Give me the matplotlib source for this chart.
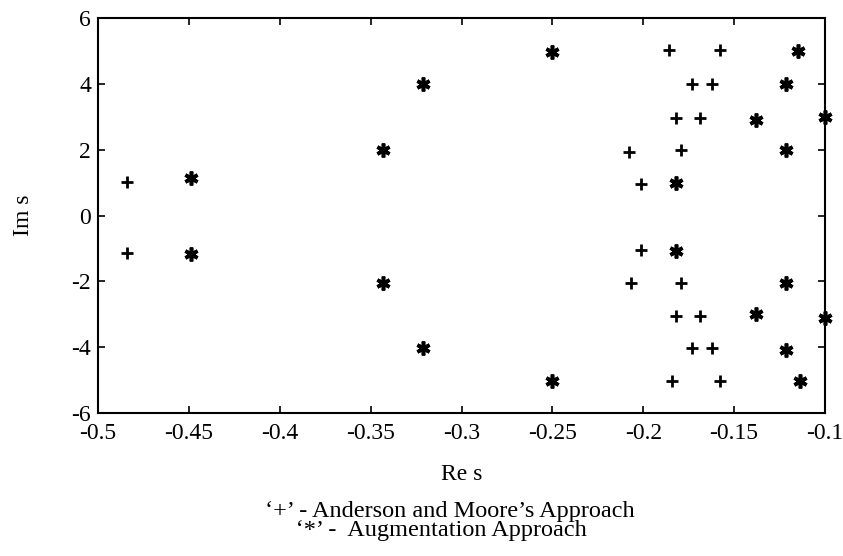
import matplotlib
matplotlib.use("Agg")
import matplotlib.pyplot as plt

# Anderson and Moore's approach ('+')
plus_re = [-0.484, -0.484, -0.186, -0.158, -0.173, -0.162, -0.182, -0.169,
           -0.208, -0.179, -0.201, -0.201, -0.207, -0.179, -0.182, -0.169,
           -0.173, -0.162, -0.184, -0.158]
plus_im = [1.02, -1.15, 5.02, 5.02, 4.0, 4.0, 2.96, 2.96,
           1.93, 2.0, 0.95, -1.05, -2.05, -2.05, -3.05, -3.05,
           -4.03, -4.03, -5.03, -5.03]

# Augmentation approach ('*')
star_re = [-0.449, -0.449, -0.343, -0.343, -0.321, -0.321, -0.25, -0.25,
           -0.115, -0.1215, -0.138, -0.1, -0.1215, -0.182, -0.182, -0.1215,
           -0.138, -0.1, -0.1215, -0.114]
star_im = [1.14, -1.18, 2.0, -2.05, 4.0, -4.03, 4.97, -5.03,
           5.0, 4.0, 2.9, 3.0, 2.0, 1.0, -1.08, -2.05,
           -3.0, -3.1, -4.08, -5.03]

xticks = [-0.5, -0.45, -0.4, -0.35, -0.3, -0.25, -0.2, -0.15, -0.1]
xticklabels = ["-0.5", "-0.45", "-0.4", "-0.35", "-0.3", "-0.25", "-0.2", "-0.15", "-0.1"]
yticks = [-6, -4, -2, 0, 2, 4, 6]

plt.rcParams["font.family"] = ["Liberation Serif", "DejaVu Serif"]
plt.rcParams["axes.unicode_minus"] = False

fig = plt.figure(figsize=(8.43, 5.56), dpi=100)
ax = fig.add_axes([0.1163, 0.2572, 0.8623, 0.7104])

ax.plot(plus_re, plus_im, linestyle="none", marker="+", color="black",
        markersize=9, markeredgewidth=2.0, clip_on=False)
ax.plot(star_re, star_im, linestyle="none", marker=(6, 2, 0), color="black",
        markersize=10, markeredgewidth=2.6, clip_on=False)

ax.set_xlim(-0.5, -0.1)
ax.set_ylim(-6, 6)
ax.set_xticks(xticks)
ax.set_xticklabels(xticklabels)
ax.set_yticks(yticks)
ax.tick_params(direction="in", length=5, width=1.2, top=True, right=True,
               labelsize=17)
ax.tick_params(axis="x", pad=7)
ax.tick_params(axis="y", pad=5)
for s in ax.spines.values():
    s.set_linewidth(1.5)

ax.set_xlabel("Re s", fontsize=17)
ax.xaxis.set_label_coords(0.5007, -0.128)
ax.set_ylabel("Im s", fontsize=17)
ax.yaxis.set_label_coords(-0.088, 0.5)

# both caption lines in one text block, second line indented
caption = ("\u2018+\u2019 - Anderson and Moore\u2019s Approach\n"
           "     \u2018*\u2019 -  Augmentation Approach")
fig.text(265 / 843, 1 - 521 / 556, caption, ha="left", va="center",
         fontsize=17.5, linespacing=0.92, multialignment="left")

fig.savefig("out.png", dpi=100)
